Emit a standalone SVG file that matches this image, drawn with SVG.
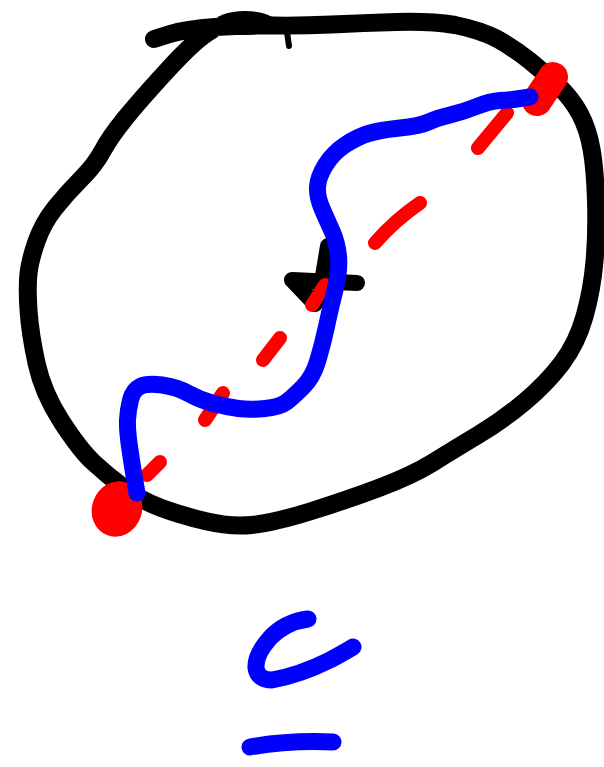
<svg xmlns="http://www.w3.org/2000/svg" width="604" height="767" viewBox="0 0 604 767">
<style>
.ink{fill:none;stroke-linecap:round;stroke-linejoin:round}
.k{stroke:#000;stroke-width:18}
.r{stroke:#ff0000;stroke-width:14}
.b{stroke:#0000ff;stroke-width:17}
</style>
<rect width="604" height="767" fill="#fff"/>
<g id="circle">
<path class="ink k" d="M154,39 L170,34 Q186,29 215,27 Q245,25 272.5,25.5 Q300,26 331.5,24.5 Q363,23 396.5,22 Q430,21 455,25 Q480,30 497.5,39 Q515,49 530,61 Q545,73 558.5,86 Q572,99 580,114 Q588,129 591.5,149 Q595,168 596,200.5 Q597,233 594.5,261.5 Q592,290 584.5,316.5 Q577,343 562,363 Q547,383 525,401.5 Q503,420 478,435 Q453,450 433,462.5 Q413,475 380,487.5 Q347,500 310,511.5 Q273,523 251.5,525 Q230,527 205,521 Q180,515 160,507.5 Q140,500 123.5,487.5 Q107,475 93.5,462.5 Q80,450 61.5,421.5 Q43,393 36.5,363 Q30,333 28.5,310 Q27,287 28.5,273.5 Q30,260 36.5,241.5 Q43,223 55,208 Q67,193 81,179 Q95,165 102.5,151 Q110,137 125,118.5 Q140,100 168.5,69 Q197,38 212,30"/>
<ellipse cx="245" cy="23" rx="31" ry="12" fill="#000"/>
<path class="ink" stroke="#000" stroke-width="6" d="M287,32 L289,46"/>
</g>
<g id="center-mark">
<path class="ink" stroke="#000" stroke-width="16" d="M292,280 L357,283 M328,246 L319,300 M294,282 L315,304"/>
</g>
<g id="red-diameter">
<path class="ink r" d="M507,113 L478,148 M420,203 Q395,220 375,243 M325,285 L312,305 M280,338 L263,360 M223,393 L205,420 M160,462 L147,475"/>
<path class="ink" stroke="#ff0000" stroke-width="30" d="M553,77 L537,101"/>
<ellipse cx="117" cy="509" rx="25" ry="28" fill="#ff0000" transform="rotate(20 117 509)"/>
</g>
<g id="blue-path">
<path class="ink b" d="M530,97 L520,98.5 Q510,100 500,100.5 Q490,101 476.5,106.5 Q463,112 450,115 Q437,118 428.5,122 Q420,126 400,128 Q380,130 368.5,133.5 Q357,137 345,145 Q333,153 325.5,165 Q318,177 317.5,187 Q317,197 322,208.5 Q327,220 332,231 Q337,242 338.5,256 Q340,270 335,290 Q330,310 326.5,326.5 Q323,343 318,360 Q313,377 303,387 Q293,397 286.5,402 Q280,407 265,408.5 Q250,410 238.5,408.5 Q227,407 213.5,403.5 Q200,400 188.5,393.5 Q177,387 162,385 Q147,383 140,386.5 Q133,390 130.5,400 Q128,410 127.5,420 Q127,430 130,450 Q133,470 135,481.5 L137,493"/>
</g>
<g id="symbol">
<path class="ink b" stroke-width="16" d="M308,619 Q285,622 270,638 Q255,655 256,668 Q258,680 272,680 Q300,675 330,660 Q345,652 353,647"/>
<path class="ink b" d="M250,747 Q290,740 333,742"/>
</g>
</svg>
